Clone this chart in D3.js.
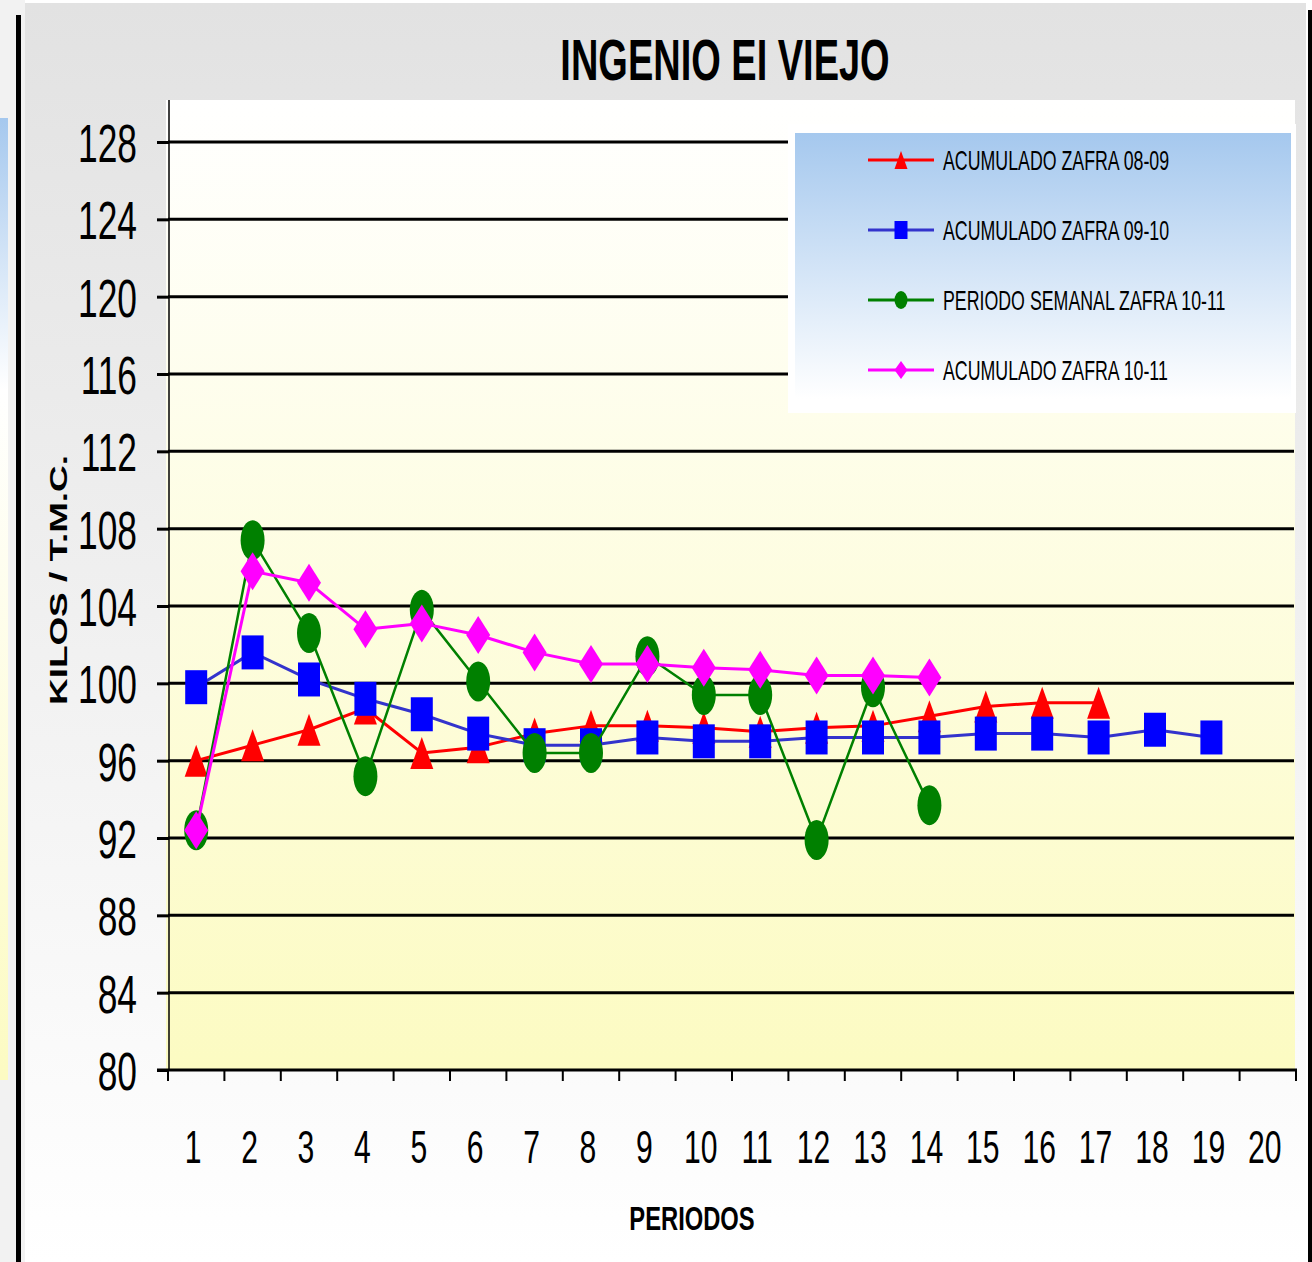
<!DOCTYPE html>
<html>
<head>
<meta charset="utf-8">
<script src="https://cdn.jsdelivr.net/npm/d3@7"></script>
<style>
  body { margin: 0; background: #fff; }
  svg { display: block; }
</style>
</head>
<body>
<script>
// data
var periodos = d3.range(1, 21);
var yTicks = [80, 84, 88, 92, 96, 100, 104, 108, 112, 116, 120, 124, 128];

var acum0809 = [96.0, 96.8, 97.6, 98.7, 96.4, 96.7, 97.4, 97.8, 97.8, 97.7, 97.5, 97.7, 97.8, 98.3, 98.8, 99.0, 99.0];
var acum0910 = [99.8, 101.6, 100.2, 99.2, 98.4, 97.4, 96.8, 96.8, 97.2, 97.0, 97.0, 97.2, 97.2, 97.2, 97.4, 97.4, 97.2, 97.6, 97.2];
var semanal1011 = [92.4, 107.4, 102.6, 95.2, 103.8, 100.1, 96.4, 96.4, 101.4, 99.4, 99.4, 91.9, 99.8, 93.7];
var acum1011 = [92.4, 105.8, 105.2, 102.8, 103.1, 102.5, 101.6, 101.0, 101.0, 100.8, 100.7, 100.4, 100.4, 100.3];

var seriesNames = ["ACUMULADO ZAFRA 08-09", "ACUMULADO ZAFRA 09-10", "PERIODO SEMANAL ZAFRA 10-11", "ACUMULADO ZAFRA 10-11"];

var W = 1312, H = 1262;
var narrow = "'Liberation Sans Narrow', 'Arial Narrow', 'Liberation Sans', Arial, sans-serif";
var SX = 0.655;

var svg = d3.select("body").append("svg").attr("width", W).attr("height", H);
var defs = svg.append("defs");

function vgrad(id, stops) {
  var g = defs.append("linearGradient").attr("id", id)
    .attr("x1", 0).attr("y1", 0).attr("x2", 0).attr("y2", 1);
  stops.forEach(function(s) { g.append("stop").attr("offset", s[0]).attr("stop-color", s[1]); });
}
vgrad("bgGrad", [[0, "#e2e2e2"], [1, "#ffffff"]]);
vgrad("plotGrad", [[0, "#ffffff"], [1, "#fcfbc2"]]);
vgrad("legGrad", [[0, "#a5c8ee"], [1, "#ffffff"]]);
vgrad("sideGrad", [[0, "#a5c8ee"], [1, "#ffffff"]]);
vgrad("sideGrad2", [[0, "#ffffff"], [1, "#fcfbc2"]]);

// outer chart background
svg.append("rect").attr("x", 25).attr("y", 3).attr("width", 1306 - 25).attr("height", H - 3).attr("fill", "url(#bgGrad)");
svg.append("rect").attr("x", 1308).attr("y", 10).attr("width", 4).attr("height", H - 10).attr("fill", "#000");
// neighbouring chart sliver on the left
svg.append("rect").attr("x", 0).attr("y", 0).attr("width", 25).attr("height", H).attr("fill", "#f2f2f2");
svg.append("rect").attr("x", 0).attr("y", 118).attr("width", 8).attr("height", 272).attr("fill", "url(#sideGrad)");
svg.append("rect").attr("x", 0).attr("y", 390).attr("width", 8).attr("height", 690).attr("fill", "url(#sideGrad2)");
svg.append("rect").attr("x", 16).attr("y", 15).attr("width", 5).attr("height", H - 15).attr("fill", "#000");

// plot area
var plotL = 168, plotR = 1296, plotT = 100, plotB = 1070;
svg.append("rect").attr("x", 166).attr("y", plotT).attr("width", 1295 - 166).attr("height", plotB - plotT).attr("fill", "url(#plotGrad)");

var x = d3.scaleBand().domain(periodos).range([plotL, plotR]);
var y = d3.scaleLinear().domain([80, 128]).range([1070, 142]);
var cx = function(i) { return x(periodos[i]) + x.bandwidth() / 2; };

// gridlines
svg.append("g").selectAll("line").data(yTicks.filter(function(d) { return d > 80; })).enter().append("line")
  .attr("x1", plotL).attr("x2", 1294)
  .attr("y1", function(d) { return y(d); }).attr("y2", function(d) { return y(d); })
  .attr("stroke", "#000").attr("stroke-width", 3);

// y axis
var yAxis = svg.append("g").attr("transform", "translate(" + (plotL + 1) + ",0)")
  .call(d3.axisLeft(y).tickValues(yTicks).tickSize(12).tickFormat(d3.format("d")));
yAxis.select(".domain").attr("d", "M0,100V1070").attr("stroke", "#000").attr("stroke-width", 1.5);
yAxis.selectAll(".tick line").attr("stroke", "#000").attr("stroke-width", 3);
yAxis.selectAll(".tick text")
  .attr("font-family", narrow).attr("font-size", 54).attr("fill", "#000")
  .attr("x", -32 / SX).attr("dy", "0.36em")
  .attr("transform", "scale(" + SX + ",1)");

// x axis
var xAxis = svg.append("g").attr("transform", "translate(0," + plotB + ")")
  .call(d3.axisBottom(x).tickSize(0));
xAxis.select(".domain").remove();
svg.append("line").attr("x1", 157).attr("x2", 1297).attr("y1", plotB).attr("y2", plotB)
  .attr("stroke", "#000").attr("stroke-width", 3);
svg.append("g").selectAll("line").data(d3.range(periodos.length + 1)).enter().append("line")
  .attr("x1", function(k) { return plotL + k * x.bandwidth(); })
  .attr("x2", function(k) { return plotL + k * x.bandwidth(); })
  .attr("y1", plotB).attr("y2", plotB + 11)
  .attr("stroke", "#000").attr("stroke-width", 2);
xAxis.selectAll(".tick text").attr("y", 0).attr("dy", 0)
  .attr("transform", "translate(-3,93) scale(" + SX + ",1)")
  .attr("font-family", narrow).attr("font-size", 46).attr("fill", "#000");

// series
function markerPath(kind, w, h) {
  if (kind === "tri") return "M0," + (-h / 2) + "L" + (w / 2) + "," + (h / 2) + "L" + (-w / 2) + "," + (h / 2) + "Z";
  if (kind === "sq") return "M" + (-w / 2) + "," + (-h / 2) + "h" + w + "v" + h + "h" + (-w) + "Z";
  if (kind === "dia") return "M0," + (-h / 2) + "L" + (w / 2) + ",0L0," + (h / 2) + "L" + (-w / 2) + ",0Z";
  // ellipse
  var rx = w / 2, ry = h / 2;
  return "M" + (-rx) + ",0A" + rx + "," + ry + " 0 1,0 " + rx + ",0A" + rx + "," + ry + " 0 1,0 " + (-rx) + ",0Z";
}

var series = [
  { name: seriesNames[0], values: acum0809, line: "#ff0000", fill: "#ff0000", kind: "tri", w: 23, h: 32, lw: 3 },
  { name: seriesNames[1], values: acum0910, line: "#3333cc", fill: "#0000ff", kind: "sq", w: 22, h: 34, lw: 3 },
  { name: seriesNames[2], values: semanal1011, line: "#008000", fill: "#008000", kind: "ell", w: 24, h: 40, lw: 2.5 },
  { name: seriesNames[3], values: acum1011, line: "#ff00ff", fill: "#ff00ff", kind: "dia", w: 24, h: 38, lw: 3 }
];

var lineGen = d3.line().x(function(d, i) { return cx(i); }).y(function(d) { return y(d); });

series.forEach(function(s) {
  var g = svg.append("g");
  g.append("path").attr("d", lineGen(s.values)).attr("fill", "none")
    .attr("stroke", s.line).attr("stroke-width", s.lw).attr("stroke-linejoin", "round");
  g.selectAll("path.m").data(s.values).enter().append("path").attr("class", "m")
    .attr("d", markerPath(s.kind, s.w, s.h))
    .attr("transform", function(d, i) { return "translate(" + cx(i) + "," + y(d) + ")"; })
    .attr("fill", s.fill);
});

// legend
svg.append("rect").attr("x", 788).attr("y", 124).attr("width", 508).attr("height", 289).attr("fill", "#fff");
svg.append("rect").attr("x", 795).attr("y", 133).attr("width", 496).attr("height", 266).attr("fill", "url(#legGrad)");
var leg = svg.append("g").selectAll("g").data(series).enter().append("g")
  .attr("transform", function(d, i) { return "translate(0," + (160 + i * 70) + ")"; });
leg.append("line").attr("x1", 868).attr("x2", 934).attr("y1", 0).attr("y2", 0)
  .attr("stroke", function(d) { return d.line; }).attr("stroke-width", 3);
leg.append("path").attr("transform", "translate(901,0)")
  .attr("d", function(d) { return markerPath(d.kind, 13, 18); })
  .attr("fill", function(d) { return d.fill; });
leg.append("text").attr("transform", "translate(943,10) scale(0.635,1)")
  .attr("font-family", narrow).attr("font-size", 28).attr("fill", "#000")
  .text(function(d) { return d.name; });

// titles
svg.append("text").attr("transform", "translate(725,80) scale(" + SX + ",1)")
  .attr("text-anchor", "middle").attr("font-family", narrow).attr("font-weight", "bold")
  .attr("font-size", 58).attr("fill", "#000").text("INGENIO EI VIEJO");
svg.append("text").attr("transform", "translate(692,1230) scale(0.72,1)")
  .attr("text-anchor", "middle").attr("font-family", narrow).attr("font-weight", "bold")
  .attr("font-size", 33).attr("fill", "#000").text("PERIODOS");
svg.append("text").attr("transform", "translate(67,580) rotate(-90)")
  .attr("text-anchor", "middle").attr("font-family", "'Liberation Sans', Arial, sans-serif").attr("font-weight", "bold")
  .attr("font-size", 24).attr("fill", "#000")
  .attr("textLength", 250).attr("lengthAdjust", "spacingAndGlyphs")
  .text("KILOS / T.M.C.");
</script>
</body>
</html>
